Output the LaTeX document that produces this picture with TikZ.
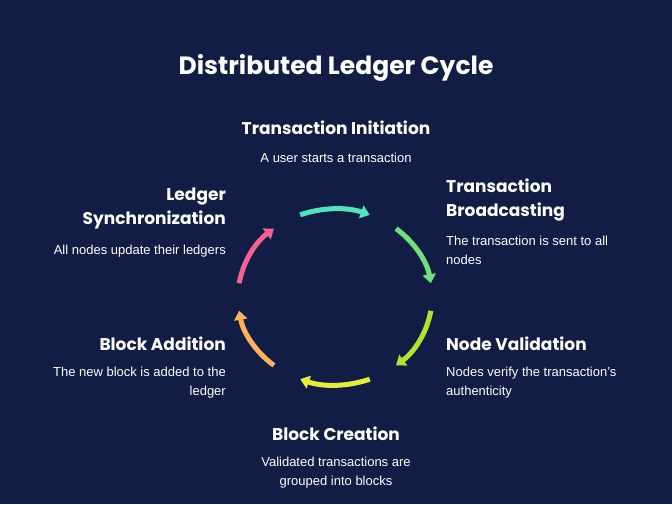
\documentclass[tikz,border=0pt]{standalone}
\usepackage{fontspec}
\setmainfont{Liberation Sans}
\newfontfamily\headfont{Poppins}
\definecolor{bg}{HTML}{111D45}
\definecolor{cTeal}{HTML}{4EE6B8}
\definecolor{cGreen}{HTML}{70E07A}
\definecolor{cLime}{HTML}{B6E12F}
\definecolor{cYellow}{HTML}{E4EE3A}
\definecolor{cOrange}{HTML}{FFB25C}
\definecolor{cPink}{HTML}{F6628F}
\usetikzlibrary{arrows.meta}
\begin{document}
\begin{tikzpicture}[x=1pt,y=-1pt,
  head/.style={text=white,font=\headfont\bfseries\fontsize{17}{24}\selectfont,inner sep=0pt},
  desc/.style={text=white,font=\fontsize{13}{19}\selectfont,inner sep=0pt},
  seg/.style={line width=5pt,-{Triangle[length=9pt,width=13pt]}}]
\fill[bg] (0,0) rectangle (672,504);
\useasboundingbox (0,0) rectangle (672,504);
\node[text=white,font=\headfont\bfseries\fontsize{25}{30}\selectfont] (title) at (336,68) {Distributed Ledger Cycle};
% cycle arrows
\coordinate (c) at (335,297);
\foreach \a/\col in {-90/cTeal,-30/cGreen,30/cLime,90/cYellow,150/cOrange,210/cPink}
  \draw[seg,\col] ([shift={(\a-21:97 and 88)}]c) arc[start angle=\a-21,end angle=\a+21,x radius=97,y radius=88];
% labels
\node[head] (initH) at (336,128) {Transaction Initiation};
\node[desc] (initD) at (336,158) {A user starts a transaction};
\node[head,anchor=west,align=left] (broadH) at (446,200) {Transaction\\Broadcasting};
\node[desc,anchor=west,align=left] (broadD) at (446,250.5) {The transaction is sent to all\\nodes};
\node[head,anchor=west] (valH) at (446,344) {Node Validation};
\node[desc,anchor=west,align=left] (valD) at (446,383) {Nodes verify the transaction's\\authenticity};
\node[head] (blockH) at (336,434) {Block Creation};
\node[desc,align=center] (blockD) at (336,473) {Validated transactions are\\grouped into blocks};
\node[head,anchor=east] (addH) at (226,344) {Block Addition};
\node[desc,anchor=east,align=right] (addD) at (226,383) {The new block is added to the\\ledger};
\node[head,anchor=east,align=right] (syncH) at (226,208) {Ledger\\Synchronization};
\node[desc,anchor=east] (syncD) at (226,251) {All nodes update their ledgers};
\end{tikzpicture}
\end{document}
